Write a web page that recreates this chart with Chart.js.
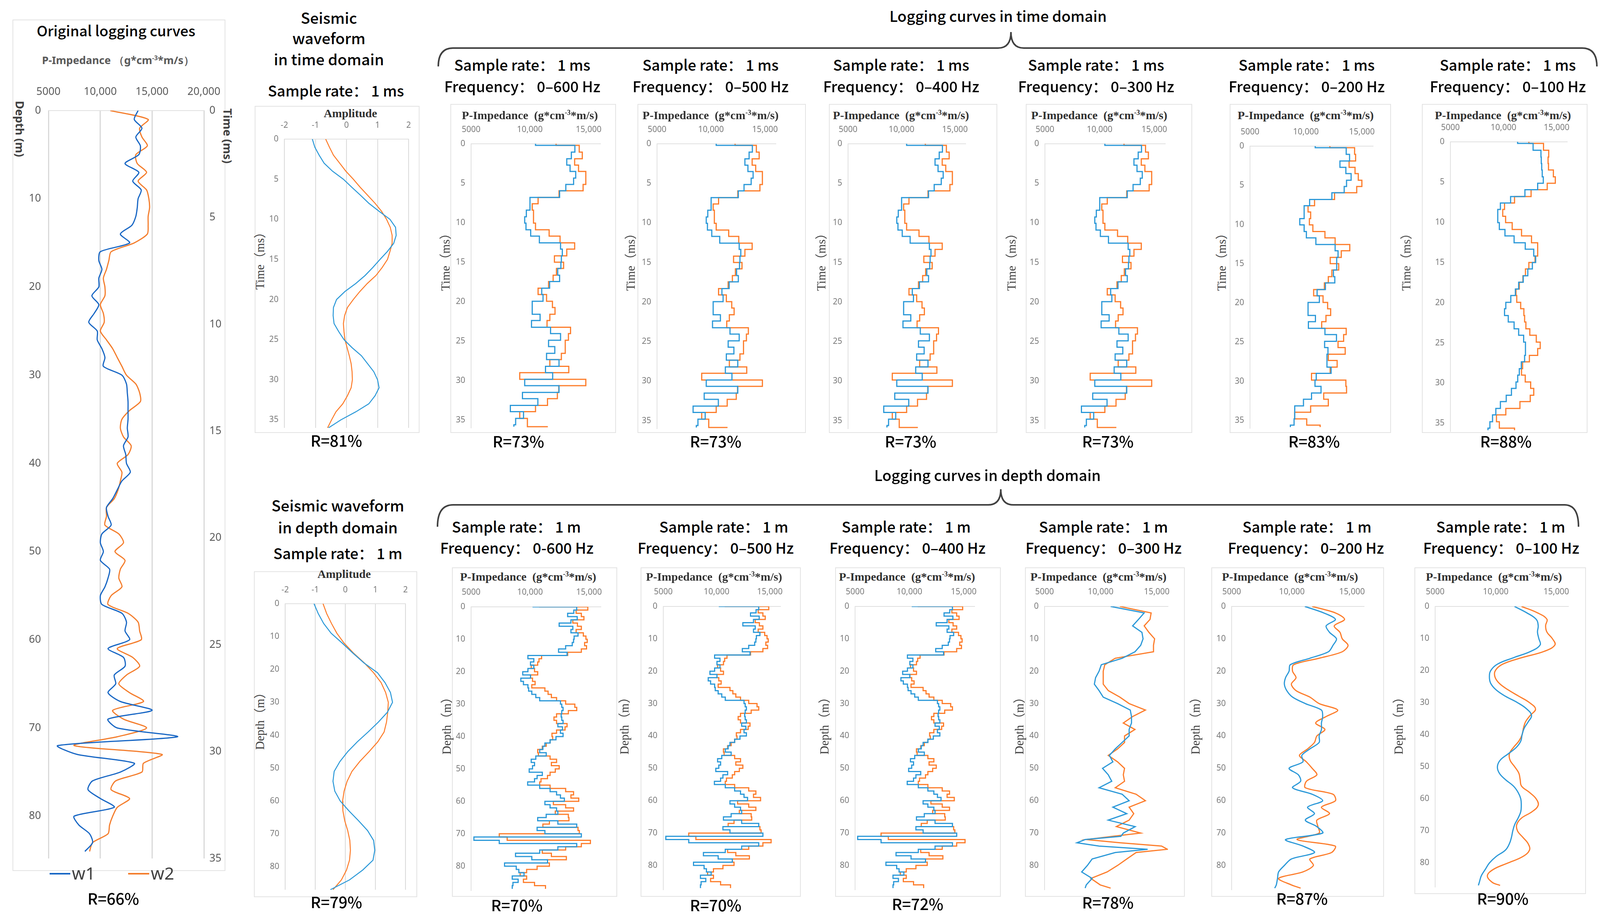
<!DOCTYPE html>
<html>
<head>
<meta charset="utf-8">
<script src="https://cdn.jsdelivr.net/npm/chart.js@4.4.1/dist/chart.umd.min.js"></script>
<style>
html, body { margin: 0; padding: 0; background: #fff; }
body { width: 4120px; height: 2357px; position: relative; overflow: hidden; }
canvas { position: absolute; }
.box { position: absolute; border: 2px solid #e3e3e3; box-sizing: border-box; }
.t { position: absolute; transform: translate(-50%, -50%); white-space: pre; line-height: 1; font-family: "Noto Sans CJK SC", "Noto Sans", sans-serif; color: #000; }
.h { font-size: 38px; font-weight: 500; }
.big { font-size: 39px; font-weight: 500; }
.rr { font-size: 40px; font-weight: 500; }
.imp { font-family: "Liberation Serif", serif; font-weight: bold; font-size: 30px; color: #303030; }
.imp sup { font-size: 18px; line-height: 0; }
.yt { font-family: "Liberation Serif", "Noto Sans CJK SC", serif; font-size: 31px; color: #404040; }
.ot { font-size: 37px; font-weight: 500; }
.oimp { font-family: "Noto Sans", sans-serif; font-weight: bold; font-size: 27px; color: #595959; }
.oimp sup { font-size: 16px; line-height: 0; }
.oyt { font-family: "Noto Sans", sans-serif; font-weight: bold; font-size: 29px; color: #404040; }
.leg { font-family: "Noto Sans", sans-serif; font-size: 44px; color: #404040; }
.lline { position: absolute; height: 4px; }
svg { position: absolute; left: 0; top: 0; }
</style>
</head>
<body>
<svg width="4120" height="2357">
  <path d="M1122,170 Q1122,123 1160,123 L2555,123 Q2588,123 2588,82 Q2588,123 2621,123 L4050,123 Q4088,123 4088,170" fill="none" stroke="#404040" stroke-width="4"/>
  <path d="M1120,1348 Q1120,1292 1160,1292 L2530,1292 Q2562,1292 2562,1252 Q2562,1292 2594,1292 L4005,1292 Q4041,1292 4041,1348" fill="none" stroke="#404040" stroke-width="4"/>
</svg>
<script>
// original logging curves, 1 m
const depthOrig = [0,1,2,3,4,5,6,7,8,9,10,11,12,13,14,15,16,17,18,19,20,21,22,23,24,25,26,27,28,29,30,31,32,33,34,35,36,37,38,39,40,41,42,43,44,45,46,47,48,49,50,51,52,53,54,55,56,57,58,59,60,61,62,63,64,65,66,67,68,69,70,71,72,73,74,75,76,77,78,79,80,81,82,83,84];
const origW1 = [13650,13280,14020,13430,13870,13720,12390,13720,13130,13950,13650,13570,13430,13050,11940,12830,10010,9860,10160,9860,9860,9190,9860,9410,8890,9710,9710,10160,10450,10300,12090,12530,12610,12680,12680,12680,12610,12680,12240,12460,12530,12900,12090,11640,11200,10600,10750,11050,10160,10010,10300,10010,10900,10750,10450,10010,10160,12090,12530,12390,12830,10750,12240,12390,11350,11490,10750,11940,15000,10750,11640,17440,5900,7780,13280,11940,9260,8820,10010,11350,7480,7930,8970,9260,8520];
const origW2 = [10970,14620,13800,14020,14540,13430,13570,14470,13650,14470,14690,14760,14620,14620,14540,13280,11050,10830,10600,10300,10450,10450,10010,10300,10380,10010,10600,11200,11640,12090,12530,13430,13800,13870,12830,12090,11940,12240,12980,12680,11640,12090,11940,11720,11350,10600,10600,10450,11790,12240,11420,12390,11940,11790,12090,11050,10750,12680,13650,13800,13950,11640,13130,13800,12530,11790,12830,14170,11200,12240,14470,11640,7480,15950,14170,14020,11490,11050,12830,11640,11200,10900,10750,9260,8970];

// seismic waveforms
const waveTime = [0,1,2,3,4,5,6,7,8,9,10,11,12,13,14,15,16,17,18,19,20,21,22,23,24,25,26,27,28,29,30,31,32,33,34,35,36];
const waveTimeW1 = [-1.10,-1.02,-0.88,-0.72,-0.45,-0.10,0.17,0.45,0.72,1.05,1.40,1.58,1.60,1.52,1.32,1.08,0.85,0.60,0.30,-0.05,-0.32,-0.42,-0.43,-0.40,-0.25,-0.08,0.18,0.48,0.68,0.88,1.00,1.05,0.92,0.72,0.30,-0.18,-0.58];
const waveTimeW2 = [-0.67,-0.55,-0.42,-0.22,-0.02,0.22,0.44,0.68,0.92,1.13,1.29,1.41,1.47,1.47,1.40,1.32,1.15,0.95,0.67,0.43,0.22,0.03,-0.06,-0.10,-0.08,-0.05,0.02,0.09,0.15,0.18,0.19,0.15,0.03,-0.12,-0.34,-0.48,-0.61];
const waveDepth = [0,3,6,9,12,15,18,21,24,27,30,33,36,39,42,45,48,51,54,57,60,63,66,69,72,75,78,81,84,87];
const waveDepthW1 = [-1.04,-0.90,-0.72,-0.47,-0.10,0.25,0.62,1.07,1.32,1.50,1.57,1.40,1.10,0.76,0.40,0.08,-0.18,-0.37,-0.41,-0.35,-0.17,0.12,0.44,0.74,0.94,0.98,0.92,0.58,0.14,-0.50];
const waveDepthW2 = [-0.74,-0.62,-0.46,-0.28,-0.04,0.27,0.63,0.94,1.19,1.34,1.43,1.41,1.37,1.29,1.08,0.79,0.48,0.22,0.06,-0.04,-0.09,-0.08,-0.02,0.08,0.15,0.17,0.14,0.04,-0.13,-0.41];

// logging curves in time domain (step curves)
const timeSteps = [0,0.2,1.05,1.9,2.7,3.5,4.35,5.15,5.95,6.8,7.6,8.4,9.25,10.05,10.9,11.7,12.55,13.35,14.2,15.0,15.8,16.65,17.45,18.3,19.1,19.95,20.75,21.6,22.4,23.25,24.05,24.9,25.7,26.55,27.35,28.2,29.0,29.85,30.65,31.5,32.3,33.15,33.95,34.8,35.6,35.85];
const time600W1 = [10480,13830,13530,13140,13420,13900,13720,13060,12530,10010,10010,9700,9560,9670,10070,10810,12610,12760,12680,12640,12370,12530,11680,11010,11120,10200,10200,10870,10140,11760,12610,11590,12120,11420,12480,11330,11940,9560,12480,9370,10680,8340,9460,8790,8640,8640];
const time600W2 = [12230,14200,14460,13810,14140,14760,14760,14530,12480,10700,10200,10310,10310,10480,11640,12570,13810,13140,12090,12870,12260,11980,11590,10700,11420,11920,12140,11700,11460,13460,13280,13010,13010,12680,11700,13310,9140,14760,12460,12340,11500,10480,9140,9790,9790,11530];
const time200W1 = [10830,13600,13900,13040,13570,14040,13630,13420,12320,10330,9840,9840,9450,9840,10040,10890,12610,12870,12750,12750,12460,12580,11740,11000,11200,10190,10190,10850,10220,11700,12730,11670,11970,11880,11880,12250,10920,10810,11350,10500,9780,9000,9000,8940,8610,8610];
const time200W2 = [12140,14350,14440,13860,14390,14680,15000,14540,12560,10770,10190,10420,10310,10620,11700,12610,13920,13160,12170,12930,12320,12000,11650,10690,11530,11940,12210,11790,11410,13600,13370,12870,13510,12000,12790,12170,10500,13570,13630,11590,12000,10420,8990,10070,11270,11270];
const time100W1 = [11330,12790,13530,13560,13600,13650,13750,13220,12020,10670,9710,9460,9460,9610,10140,11000,12050,12850,13030,12720,12290,11860,11430,11120,10690,10220,10100,10450,11000,11430,11900,12070,12070,11990,11680,11490,11340,11180,10750,10260,9710,9280,8970,8720,8540,8540];
const time100W2 = [12390,13770,14260,14200,14240,14700,14880,14120,12600,11040,10100,9930,10200,10820,11700,12640,13220,13220,12970,12390,12070,11830,11490,11180,11250,11620,11920,11990,12110,12480,13090,13460,13220,12440,11800,11700,12050,12560,12850,12520,11550,10220,9340,9610,11040,11040];

// logging curves in depth domain
const depth1m = [0,1,2,3,4,5,6,7,8,9,10,11,12,13,14,15,16,17,18,19,20,21,22,23,24,25,26,27,28,29,30,31,32,33,34,35,36,37,38,39,40,41,42,43,44,45,46,47,48,49,50,51,52,53,54,55,56,57,58,59,60,61,62,63,64,65,66,67,68,69,70,71,72,73,74,75,76,77,78,79,80,81,82,83,84,85,86,87];
const depth600W1 = [10210,13960,13710,13190,14000,13470,12470,13630,13470,14070,13740,13690,13580,13020,12420,13140,9820,10320,10040,10320,9820,9380,10040,9220,9440,9820,9880,10150,10490,10820,12580,12690,12800,12690,12640,12690,12800,12360,12750,12580,12800,12200,11700,11260,11090,10820,11370,10490,10100,10380,10210,9930,11040,10600,10380,9800,10820,11700,12250,12580,12910,11260,11700,12250,12360,11370,10650,12360,13960,10600,11260,14350,5240,7390,13960,12360,10820,8770,10150,11480,7840,8830,9050,9490,8490,8990,8550,8490];
const depth600W2 = [10760,14900,13910,14350,14570,13630,14020,14350,13910,14520,14740,14850,14630,14790,14350,13190,10980,10760,10650,10100,10380,10650,10040,10210,10430,10150,11260,11530,11810,12250,13020,13800,13960,13250,12250,12030,12250,13140,12970,12250,11860,11920,11700,11370,11040,10650,10710,11700,12250,11810,12470,12140,11700,11480,10930,10820,11700,13020,13690,13470,14130,11980,13020,13690,12140,13250,13300,11640,11090,14070,14180,7390,8060,15120,14350,13020,11040,11810,13080,11480,11640,10600,9710,9160,9710,9440,10380,11310];
const depth300 = [0,2,4,6,8,10,12,14,16,18,20,22,24,26,28,30,32,34,36,38,40,42,44,46,48,50,52,54,56,58,60,62,64,66,68,70,71,72,73,74,75,76,78,80,82,84,86,87];
const depth300W1 = [10890,13880,13370,12850,13680,13780,13570,13060,11920,10060,9860,9550,9440,9860,10230,11510,12640,12750,12750,12540,12540,11920,11300,10780,11090,10170,10680,10990,9860,11920,12540,11090,12330,10680,13080,12020,11800,8620,7890,9860,14190,11300,9240,8820,8310,9240,8720,8620];
const depth300W2 = [11710,14500,14400,13880,14300,14810,14710,14710,11300,10370,10230,10230,10230,10680,11710,12540,13990,12850,12020,13060,12130,12130,11510,10680,11510,12130,12020,12130,11300,13160,13990,12540,12950,12540,11400,13570,11090,8720,11710,15430,15950,13160,12330,11510,10580,9130,9960,10890];
const depth2m = [0,2,4,6,8,10,12,14,16,18,20,22,24,26,28,30,32,34,36,38,40,42,44,46,48,50,52,54,56,58,60,62,64,66,68,70,72,74,76,78,80,82,84,86,87];
const depth200W1 = [11080,12650,13620,12850,13130,13710,13420,13040,11500,9870,9770,9480,9380,9580,10060,11120,12460,12560,12460,12460,12270,12270,11500,10830,10920,9770,10540,10730,10060,11690,12560,11310,11880,11120,12080,12560,9480,10920,11880,9960,9380,8900,8810,8710,8580];
const depth200W2 = [11690,13620,14380,13520,14000,14190,14670,14190,12270,10150,10060,10350,9960,10350,11500,12270,13810,12850,11980,12750,12080,11880,11310,10630,11210,11690,12080,11210,11120,13420,13620,12460,13130,12080,12170,12270,10440,13600,13300,11500,11790,10920,8900,9960,10730];
const depth100W1 = [11550,12570,13340,13510,13450,13560,13670,12900,11460,10140,9590,9480,9590,10030,10800,11800,12570,12960,12680,12350,12180,12070,11690,11020,10360,10140,10300,10800,11460,11850,12070,12110,12070,11850,11570,11410,11300,11130,10800,10030,9480,9140,8810,8650,8570];
const depth100W2 = [12130,13450,14230,14120,14230,14670,14890,14010,12130,10580,9970,9940,10300,11020,11910,12790,13290,12850,12460,12290,12180,11910,11460,11130,11190,11570,11910,12020,12130,12790,13340,13510,13010,12130,11740,11800,12240,12680,12790,12240,11020,9810,9310,9700,10360];

// tick labels
const impTicks = [5000, 10000, 15000];
const origTicks = [5000, 10000, 15000, 20000];
const ampTicks = [-2, -1, 0, 1, 2];

const BLUE = '#2a98d8', ORANGE = '#fd7c2a';
const OBLUE = '#1766c4', OORANGE = '#f47d2c';

function fmt(v) {
    return Math.abs(v) >= 10000 ? v.toLocaleString('en-US') : String(v);
}

function pts(ys, xs) {
    return ys.map((y, i) => ({ x: xs[i], y: y }));
}

function series(ys, xs, color, extra) {
    return Object.assign({ data: pts(ys, xs), borderColor: color, borderWidth: 3, pointRadius: 0, fill: false, tension: 0 }, extra || {});
}

function text(html, x, y, cls, rot) {
    let d = document.createElement('div');
    d.className = 't ' + (cls || '');
    d.innerHTML = html;
    d.style.left = x + 'px';
    d.style.top = y + 'px';
    if (rot) d.style.transform = `translate(-50%,-50%) rotate(${rot}deg)`;
    document.body.appendChild(d);
}

function box(b) {
    let d = document.createElement('div');
    d.className = 'box';
    d.style.left = b[0] + 'px';
    d.style.top = b[1] + 'px';
    d.style.width = (b[2] - b[0]) + 'px';
    d.style.height = (b[3] - b[1]) + 'px';
    document.body.appendChild(d);
}

function drawPanel(p) {
    const M = 110, yW = 80, xH = 80, y2W = p.y2 ? 80 : 0;
    let cv = document.createElement('canvas');
    cv.width = p.plot.r - p.plot.l + 2 * M;
    cv.height = p.plot.b - p.plot.t + 2 * M;
    cv.style.left = (p.plot.l - M) + 'px';
    cv.style.top = (p.plot.t - M) + 'px';
    document.body.appendChild(cv);

    const tickFont = { family: 'Noto Sans', size: p.tickSize };
    let scales = {
        x: {
            type: 'linear', position: 'top', min: p.x.min, max: p.x.max,
            afterFit: s => { s.height = xH; },
            afterBuildTicks: s => { s.ticks = p.x.ticks.map(v => ({ value: v })); },
            ticks: { autoSkip: false, maxRotation: 0, padding: p.x.pad, color: p.tickColor, font: tickFont, callback: fmt },
            grid: { display: !!p.x.grid, color: '#d9d9d9', lineWidth: p.x.gridW || 2, drawTicks: false },
            border: { display: true, color: '#e0e0e0', width: 2 }
        },
        y: {
            type: 'linear', reverse: true, min: p.y.min, max: p.y.max,
            afterFit: s => { s.width = yW; },
            ticks: { stepSize: p.y.step, autoSkip: false, includeBounds: false, padding: p.y.pad, color: p.tickColor, font: tickFont },
            grid: { display: false, drawTicks: false },
            border: { display: p.y.border !== false, color: '#e0e0e0', width: 2 }
        }
    };
    if (p.y2) {
        scales.y2 = {
            type: 'linear', position: 'right', reverse: true, min: p.y2.min, max: p.y2.max,
            afterFit: s => { s.width = y2W; },
            ticks: { stepSize: p.y2.step, autoSkip: false, includeBounds: false, padding: p.y2.pad, color: p.tickColor, font: tickFont },
            grid: { display: false, drawTicks: false },
            border: { display: false }
        };
    }

    new Chart(cv, {
        type: 'line',
        data: { datasets: p.datasets },
        options: {
            responsive: false, animation: false, devicePixelRatio: 1, indexAxis: 'y', events: [],
            layout: { padding: { left: M - yW, top: M - xH, right: M - y2W, bottom: M } },
            plugins: { legend: { display: false }, tooltip: { enabled: false } },
            scales: scales
        }
    });
}

// ---------- original logging curves ----------
box([32, 50, 577, 2229]);
text('Original logging curves', 297, 77, 'ot');
text('P-Impedance （g*cm<sup>-3</sup>*m/s）', 302, 153, 'oimp');
text('Depth (m)', 51, 330, 'oyt', 90);
text('Time (ms)', 583, 348, 'oyt', 90);
drawPanel({
    plot: { l: 124, r: 522, t: 283, b: 2197 },
    x: { min: 5000, max: 20000, ticks: origTicks, pad: 31, grid: true, gridW: 3 },
    y: { min: 0, max: 84.8, step: 10, pad: 19, border: false },
    y2: { min: 0, max: 35, step: 5, pad: 14 },
    tickSize: 27, tickColor: '#595959',
    datasets: [
        series(depthOrig, origW1, OBLUE, { tension: 0.25 }),
        series(depthOrig, origW2, OORANGE, { tension: 0.25 })
    ]
});
let l1 = document.createElement('div'); l1.className = 'lline';
l1.style.cssText = 'left:127px;top:2234px;width:53px;background:' + OBLUE;
document.body.appendChild(l1);
let l2 = document.createElement('div'); l2.className = 'lline';
l2.style.cssText = 'left:328px;top:2234px;width:54px;background:' + OORANGE;
document.body.appendChild(l2);
text('w1', 214, 2234, 'leg');
text('w2', 416, 2234, 'leg');
text('R=66%', 290, 2298, 'rr');

// ---------- seismic waveforms ----------
box([652, 271, 1074, 1108]);
text('Seismic', 842, 44, 'big');
text('waveform', 842, 96, 'big');
text('in time domain', 842, 150, 'big');
text('Sample rate： 1 ms', 860, 231, 'h');
text('Amplitude', 897, 290, 'imp');
text('Time（ms）', 665, 660, 'yt', -90);
drawPanel({
    plot: { l: 728, r: 1046, t: 356, b: 1095 },
    x: { min: -2, max: 2, ticks: ampTicks, pad: 22, grid: true },
    y: { min: 0, max: 36, step: 5, pad: 15, border: false },
    tickSize: 21, tickColor: '#7a7a7a',
    datasets: [
        series(waveTime, waveTimeW1, BLUE, { borderWidth: 2.5 }),
        series(waveTime, waveTimeW2, ORANGE, { borderWidth: 2.5 })
    ]
});
text('R=81%', 861, 1126, 'rr');

box([650, 1462, 1068, 2296]);
text('Seismic waveform', 865, 1292, 'big');
text('in depth domain', 865, 1348, 'big');
text('Sample rate： 1 m', 865, 1415, 'h');
text('Amplitude', 881, 1469, 'imp');
text('Depth（m）', 665, 1838, 'yt', -90);
drawPanel({
    plot: { l: 730, r: 1038, t: 1545, b: 2277 },
    x: { min: -2, max: 2, ticks: ampTicks, pad: 22, grid: true },
    y: { min: 0, max: 87, step: 10, pad: 15, border: false },
    tickSize: 21, tickColor: '#7a7a7a',
    datasets: [
        series(waveDepth, waveDepthW1, BLUE, { borderWidth: 2.5 }),
        series(waveDepth, waveDepthW2, ORANGE, { borderWidth: 2.5 })
    ]
});
text('R=79%', 861, 2307, 'rr');

// ---------- logging curves in time domain ----------
text('Logging curves in time domain', 2555, 40, 'h');
const timePanels = [
    { freq: '0–600 Hz', r: 'R=73%', w1: time600W1, w2: time600W2, box: [1153, 266, 1577, 1108], plot: { l: 1206, r: 1537, t: 368, b: 1095 }, cx: 1337, rx: 1327, ax: 1140 },
    { freq: '0–500 Hz', r: 'R=73%', w1: time600W1, w2: time600W2, box: [1632, 266, 2063, 1108], plot: { l: 1682, r: 1986, t: 368, b: 1097 }, cx: 1819, rx: 1832, ax: 1614 },
    { freq: '0–400 Hz', r: 'R=73%', w1: time600W1, w2: time600W2, box: [2122, 266, 2553, 1108], plot: { l: 2171, r: 2472, t: 368, b: 1097 }, cx: 2307, rx: 2331, ax: 2102 },
    { freq: '0–300 Hz', r: 'R=73%', w1: time600W1, w2: time600W2, box: [2626, 266, 3052, 1108], plot: { l: 2675, r: 2983, t: 368, b: 1097 }, cx: 2806, rx: 2836, ax: 2589 },
    { freq: '0–200 Hz', r: 'R=83%', w1: time200W1, w2: time200W2, box: [3148, 266, 3561, 1108], plot: { l: 3200, r: 3515, t: 374, b: 1096 }, cx: 3345, rx: 3364, ax: 3127 },
    { freq: '0–100 Hz', r: 'R=88%', w1: time100W1, w2: time100W2, box: [3640, 266, 4064, 1108], plot: { l: 3713, r: 4012, t: 363, b: 1104 }, cx: 3860, rx: 3855, ax: 3600 }
];
timePanels.forEach(p => {
    box(p.box);
    text('Sample rate： 1 ms', p.cx, 165, 'h');
    text('Frequency： ' + p.freq, p.cx, 220, 'h');
    text('P-Impedance  (g*cm<sup>-3</sup>*m/s)', (p.plot.l + p.plot.r) / 2 - 15, 295, 'imp');
    text('Time（ms）', p.ax, 663, 'yt', -90);
    drawPanel({
        plot: p.plot,
        x: { min: 5000, max: 16000, ticks: impTicks, pad: 23 },
        y: { min: 0, max: 36, step: 5, pad: 15 },
        tickSize: 21, tickColor: '#7a7a7a',
        datasets: [
            series(timeSteps, p.w1, BLUE, { stepped: 'after' }),
            series(timeSteps, p.w2, ORANGE, { stepped: 'after' })
        ]
    });
    text(p.r, p.rx, 1128, 'rr');
});

// ---------- logging curves in depth domain ----------
text('Logging curves in depth domain', 2528, 1215, 'h');
const depthPanels = [
    { freq: '0-600 Hz', r: 'R=70%', ys: depth1m, w1: depth600W1, w2: depth600W2, opt: { stepped: 'before' }, box: [1157, 1452, 1580, 2295], plot: { l: 1206, r: 1538, t: 1553, b: 2279 }, cx: 1322, fx: 1323, rx: 1323, ry: 2315, ax: 1143 },
    { freq: '0–500 Hz', r: 'R=70%', ys: depth1m, w1: depth600W1, w2: depth600W2, opt: { stepped: 'before' }, box: [1640, 1452, 2050, 2295], plot: { l: 1698, r: 1998, t: 1552, b: 2277 }, cx: 1853, fx: 1832, rx: 1832, ry: 2315, ax: 1598 },
    { freq: '0–400 Hz', r: 'R=72%', ys: depth1m, w1: depth600W1, w2: depth600W2, opt: { stepped: 'before' }, box: [2138, 1452, 2562, 2295], plot: { l: 2189, r: 2495, t: 1552, b: 2277 }, cx: 2320, fx: 2323, rx: 2349, ry: 2312, ax: 2110 },
    { freq: '0–300 Hz', r: 'R=78%', ys: depth300, w1: depth300W1, w2: depth300W2, opt: {}, box: [2624, 1452, 3033, 2295], plot: { l: 2674, r: 2990, t: 1552, b: 2277 }, cx: 2825, fx: 2825, rx: 2836, ry: 2308, ax: 2609 },
    { freq: '0–200 Hz', r: 'R=87%', ys: depth2m, w1: depth200W1, w2: depth200W2, opt: { tension: 0.3 }, box: [3101, 1452, 3543, 2295], plot: { l: 3153, r: 3492, t: 1552, b: 2277 }, cx: 3346, fx: 3343, rx: 3333, ry: 2298, ax: 3060 },
    { freq: '0–100 Hz', r: 'R=90%', ys: depth2m, w1: depth100W1, w2: depth100W2, opt: { tension: 0.4 }, box: [3621, 1452, 4060, 2288], plot: { l: 3674, r: 4015, t: 1552, b: 2270 }, cx: 3842, fx: 3843, rx: 3847, ry: 2298, ax: 3580 }
];
depthPanels.forEach(p => {
    box(p.box);
    text('Sample rate： 1 m', p.cx, 1347, 'h');
    text('Frequency： ' + p.freq, p.fx, 1401, 'h');
    text('P-Impedance  (g*cm<sup>-3</sup>*m/s)', (p.plot.l + p.plot.r) / 2 - 20, 1476, 'imp');
    text('Depth（m）', p.ax, 1850, 'yt', -90);
    drawPanel({
        plot: p.plot,
        x: { min: 5000, max: 16000, ticks: impTicks, pad: 24 },
        y: { min: 0, max: 87.5, step: 10, pad: 15 },
        tickSize: 21, tickColor: '#7a7a7a',
        datasets: [
            series(p.ys, p.w1, BLUE, p.opt),
            series(p.ys, p.w2, ORANGE, p.opt)
        ]
    });
    text(p.r, p.rx, p.ry, 'rr');
});
</script>
</body>
</html>
